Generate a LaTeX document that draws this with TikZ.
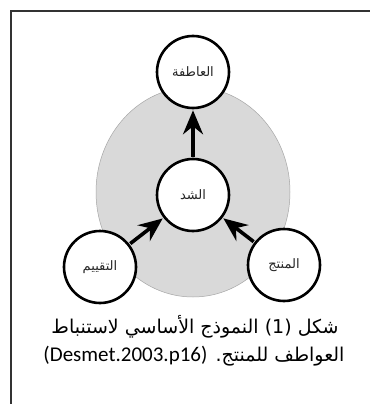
\documentclass[tikz,border=0pt]{standalone}
\usepackage{fontspec}
\newfontfamily\arabicfont[Script=Arabic]{DejaVu Sans}
\newfontfamily\latinfont{Carlito}
\TeXXeTstate=1
\usetikzlibrary{arrows.meta}
\definecolor{bgcirc}{HTML}{D9D9D9}
\tikzset{
  circnode/.style={circle, draw=black, line width=2.6pt, fill=white, minimum size=72pt, inner sep=0pt, text=black!85, font=\arabicfont\fontsize{13}{15}\selectfont},
  flowarrow/.style={line width=3.6pt, -{Stealth[length=24pt, width=20pt, inset=8pt]}, shorten >=1pt, shorten <=1pt},
  caption/.style={font=\arabicfont\fontsize{19}{22}\selectfont, text=black, inner sep=0pt}
}
\begin{document}
\begin{tikzpicture}[x=1pt, y=-1pt]
\useasboundingbox (0,0) rectangle (370,404);
\fill[white] (0,0) rectangle (370,404);
\draw[line width=1.4pt, black!80] (11,404) -- (11,11) -- (370,11);
\fill[bgcirc] (193,192) ellipse [x radius=97pt, y radius=105pt];
\draw[black!35, line width=0.5pt] (193,192) ellipse [x radius=97pt, y radius=105pt];
\node[circnode] (emo) at (193,72) {\beginR العاطفة\endR};
\node[circnode] (att) at (193,195) {\beginR الشد\endR};
\node[circnode] (eva) at (100,267) {\beginR التقييم\endR};
\node[circnode] (pro) at (284,265) {\beginR المنتج\endR};
\draw[flowarrow] (att) -- (emo);
\draw[flowarrow] (eva) -- (att);
\draw[flowarrow] (pro) -- (att);
\node[caption] (cap1) at (195,327) {\beginR شكل \beginL(1)\endL{} النموذج الأساسي لاستنباط\endR};
\node[caption] (cap2) at (194,356) {\beginR العواطف للمنتج. \beginL{\latinfont\fontsize{21}{22}\selectfont(Desmet.2003.p16)}\endL\endR};
\end{tikzpicture}
\end{document}
